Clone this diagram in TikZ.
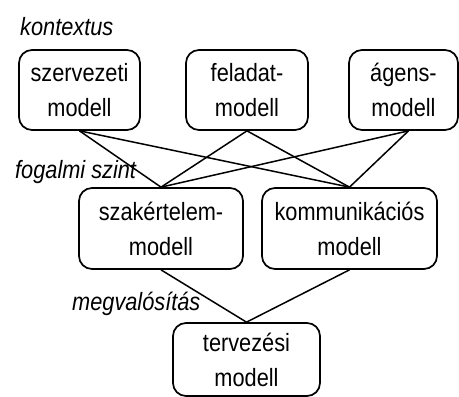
\documentclass[tikz,border=0pt]{standalone}
\usepackage{fontspec}
\setmainfont{Liberation Sans}[FakeStretch=0.87]
\begin{document}
\begin{tikzpicture}[x=1pt,y=-1pt,
  box/.style={draw, line width=1.7pt, rounded corners=13pt, align=center, inner sep=0pt,
    font=\fontsize{25}{35}\selectfont},
  lbl/.style={anchor=base west, inner sep=0pt, font=\fontsize{25}{35}\selectfont\itshape},
  conn/.style={line width=1.5pt}]
\useasboundingbox (0,0) rectangle (459,397);
\node[box, minimum width=121pt, minimum height=80pt] (szerv) at (79.5,90) {szervezeti\\modell};
\node[box, minimum width=122pt, minimum height=80pt] (felad) at (247,90) {feladat-\\modell};
\node[box, minimum width=109pt, minimum height=80pt] (agens) at (403.5,90) {ágens-\\modell};
\node[box, minimum width=164pt, minimum height=81pt] (szak) at (161,228.5) {szakértelem-\\modell};
\node[box, minimum width=175pt, minimum height=81pt] (komm) at (349.5,228.5) {kommunikációs\\modell};
\node[box, minimum width=147pt, minimum height=73pt] (terv) at (246.5,359.5) {tervezési\\modell};
\node[lbl] (kont) at (20,35) {kontextus};
\node[lbl] (fog) at (15,178) {fogalmi szint};
\node[lbl] (megv) at (72,310) {megvalósítás};
\draw[conn] (szerv.south) -- (szak.north);
\draw[conn] (szerv.south) -- (komm.north);
\draw[conn] (felad.south) -- (szak.north);
\draw[conn] (felad.south) -- (komm.north);
\draw[conn] ([xshift=5pt]agens.south) -- (szak.north);
\draw[conn] ([xshift=5pt]agens.south) -- (komm.north);
\draw[conn] (szak.south) -- (terv.north);
\draw[conn] (komm.south) -- (terv.north);
\end{tikzpicture}
\end{document}
